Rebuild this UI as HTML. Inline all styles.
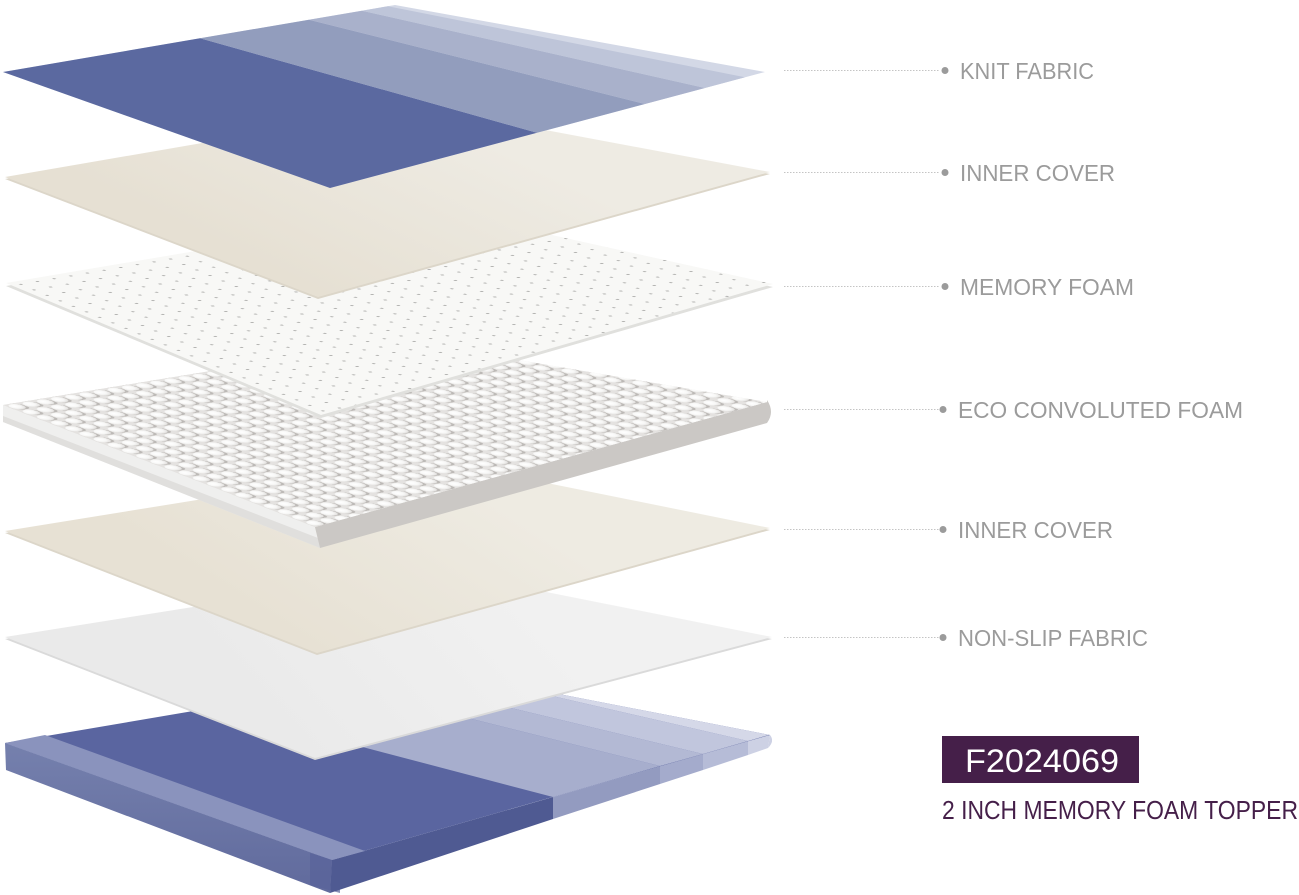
<!DOCTYPE html>
<html>
<head>
<meta charset="utf-8">
<style>
  html,body{margin:0;padding:0;background:#ffffff;}
  body{width:1299px;height:895px;overflow:hidden;}
  svg{display:block;}
  .lbl{font-family:"Liberation Sans",Arial,sans-serif;font-size:23px;fill:#9b9b9b;}
</style>
</head>
<body>
<svg width="1299" height="895" viewBox="0 0 1299 895" xmlns="http://www.w3.org/2000/svg">
  <defs>
    <linearGradient id="beige1" gradientUnits="userSpaceOnUse" x1="420" y1="110" x2="330" y2="297">
      <stop offset="0" stop-color="#eeebe3"/>
      <stop offset="1" stop-color="#e6e0d3"/>
    </linearGradient>
    <linearGradient id="beige2" gradientUnits="userSpaceOnUse" x1="440" y1="465" x2="320" y2="653">
      <stop offset="0" stop-color="#eeebe2"/>
      <stop offset="1" stop-color="#e7e1d4"/>
    </linearGradient>
    <linearGradient id="nonslip" gradientUnits="userSpaceOnUse" x1="500" y1="580" x2="300" y2="758">
      <stop offset="0" stop-color="#f1f1f1"/>
      <stop offset="1" stop-color="#eaeaea"/>
    </linearGradient>
    <linearGradient id="mlside" gradientUnits="userSpaceOnUse" x1="0" y1="745" x2="0" y2="880">
      <stop offset="0" stop-color="#7580ad"/>
      <stop offset="1" stop-color="#626c9e"/>
    </linearGradient>
    <radialGradient id="bumpg" cx="0.4" cy="0.38" r="0.65">
      <stop offset="0" stop-color="#ffffff"/>
      <stop offset="0.6" stop-color="#f7f7f6"/>
      <stop offset="1" stop-color="#e2e0de"/>
    </radialGradient>
    <pattern id="dots" width="10" height="10" patternUnits="userSpaceOnUse"
             patternTransform="matrix(1.665 -0.281 1.313 0.55 6 283)">
      <circle cx="5" cy="5" r="0.85" fill="#b3b3b1"/>
    </pattern>
    <pattern id="bumps" width="10" height="10" patternUnits="userSpaceOnUse"
             patternTransform="matrix(1.418 -0.232 1.418 0.555 3 405)">
      <rect width="10" height="10" fill="#e4e2e0"/>
      <circle cx="6.2" cy="6.0" r="4.4" fill="#bcb9b6"/>
      <circle cx="5" cy="5" r="4.3" fill="url(#bumpg)"/>
    </pattern>
    <clipPath id="mtop">
      <polygon points="5,743 435,670 770,735 332,860"/>
    </clipPath>
  </defs>

  <!-- ===== Layer 7: base mattress ===== -->
  <polygon points="5,743 332,860 330,893 6,770" fill="url(#mlside)"/>
  <polygon points="310,853 340,862 340,893 310,885" fill="#58629a" opacity="0.7"/>
  <!-- front-right side bands -->
  <polygon points="332,860 553,797 553,819 330,893" fill="#4f5a92"/>
  <polygon points="553,797 660,766.4 660,784 553,819" fill="#939bc0"/>
  <polygon points="660,766.4 703,754 703,770 660,784" fill="#a4abcc"/>
  <polygon points="703,754 748,741.3 748,755 703,770" fill="#b6bcd7"/>
  <polygon points="748,741.3 770,735 768,748 748,755" fill="#cdd1e4"/>
  <path d="M770,735 Q775,741 768,748 Z" fill="#cdd1e4"/>
  <!-- top face -->
  <polygon points="5,743 435,670 770,735 332,860" fill="#5a65a0"/>
  <g clip-path="url(#mtop)">
    <polygon points="553,797 660,766 260,666 153,692" fill="#a7aecd"/>
    <polygon points="660,766 703,754 303,658 260,666" fill="#b3b9d4"/>
    <polygon points="703,754 748,741 348,649 303,658" fill="#c1c6dd"/>
    <polygon points="748,741 820,720 420,620 348,649" fill="#d5d8e8"/>
  </g>
  <polygon points="5,743 45,735 365,851 332,860" fill="#8a93bd"/>

  <!-- ===== Layer 6: non-slip fabric ===== -->
  <polygon points="5,639 431,571 772,639 315,760" fill="#dadada"/>
  <polygon points="5,637 431,569 772,637 315,758" fill="url(#nonslip)"/>

  <!-- ===== Layer 5: inner cover ===== -->
  <polygon points="5,533 438,463 770,530 317,655" fill="#dcd6c9"/>
  <polygon points="5,531 438,461 770,528 317,653" fill="url(#beige2)"/>

  <!-- ===== Layer 4: eco convoluted foam ===== -->
  <polygon points="3,405 315,527 320,548 3,422" fill="#efefee"/>
  <polygon points="3,416 318,538 320,548 3,422" fill="#e0dfdd"/>
  <polygon points="315,527 767,402 767,423 320,548" fill="#cbc8c5"/>
  <path d="M767,400 Q775,412 767,423 Z" fill="#cbc8c5"/>
  <polygon points="3,405 400,340 767,402 315,527" fill="#ecebea"/>
  <polygon points="3,405 400,340 767,402 315,527" fill="url(#bumps)"/>

  <!-- ===== Layer 3: memory foam ===== -->
  <polygon points="6,286 439,213 773,287 321,418" fill="#e0e0dd"/>
  <polygon points="6,283 439,210 773,284 321,415" fill="#f8f8f6"/>
  <polygon points="6,283 439,210 773,284 321,415" fill="url(#dots)"/>

  <!-- ===== Layer 2: inner cover ===== -->
  <polygon points="5,179 417,108 770,174 318,299" fill="#dcd6c9"/>
  <polygon points="5,177 417,106 770,172 318,297" fill="url(#beige1)"/>

  <!-- ===== Layer 1: knit fabric ===== -->
  <polygon points="3,72 395,5 765,72 330,188" fill="#d3d8e6"/>
  <polygon points="3,72 200,38.3 537,132.8 330,188" fill="#5b69a0"/>
  <polygon points="200,38.3 309,19.7 645,104 537,132.8" fill="#929dbd"/>
  <polygon points="309,19.7 362,10.7 705,88 645,104" fill="#a9b1cb"/>
  <polygon points="362,10.7 388,6.2 745,77.3 705,88" fill="#bec5d9"/>

  <!-- ===== Connectors ===== -->
  <g stroke="#c4c4c4" stroke-width="1" stroke-dasharray="1.5 1.5" fill="none">
    <line x1="784" y1="70.5" x2="940" y2="70.5"/>
    <line x1="784" y1="172.5" x2="940" y2="172.5"/>
    <line x1="784" y1="286.5" x2="940" y2="286.5"/>
    <line x1="784" y1="409.5" x2="939" y2="409.5"/>
    <line x1="784" y1="529.5" x2="939" y2="529.5"/>
    <line x1="784" y1="637.5" x2="939" y2="637.5"/>
  </g>
  <g fill="#9b9b9b">
    <circle cx="945" cy="70.5" r="3.5"/>
    <circle cx="945" cy="172.5" r="3.5"/>
    <circle cx="945" cy="286.5" r="3.5"/>
    <circle cx="943" cy="409.5" r="3.5"/>
    <circle cx="943" cy="529.5" r="3.5"/>
    <circle cx="943" cy="637.5" r="3.5"/>
  </g>

  <!-- ===== Labels ===== -->
  <text class="lbl" x="960" y="79" textLength="134" lengthAdjust="spacingAndGlyphs">KNIT FABRIC</text>
  <text class="lbl" x="960" y="181" textLength="155" lengthAdjust="spacingAndGlyphs">INNER COVER</text>
  <text class="lbl" x="960" y="295" textLength="174" lengthAdjust="spacingAndGlyphs">MEMORY FOAM</text>
  <text class="lbl" x="958" y="418" textLength="285" lengthAdjust="spacingAndGlyphs">ECO CONVOLUTED FOAM</text>
  <text class="lbl" x="958" y="538" textLength="155" lengthAdjust="spacingAndGlyphs">INNER COVER</text>
  <text class="lbl" x="958" y="646" textLength="190" lengthAdjust="spacingAndGlyphs">NON-SLIP FABRIC</text>

  <!-- ===== Badge ===== -->
  <rect x="942" y="736" width="197" height="47" fill="#451f49"/>
  <text x="965" y="772" font-family="'Liberation Sans',Arial,sans-serif" font-size="32" fill="#ffffff" textLength="154" lengthAdjust="spacingAndGlyphs">F2024069</text>
  <text x="942" y="819" font-family="'Liberation Sans',Arial,sans-serif" font-size="26" fill="#451f49" textLength="356" lengthAdjust="spacingAndGlyphs">2 INCH MEMORY FOAM TOPPER</text>
</svg>
</body>
</html>
